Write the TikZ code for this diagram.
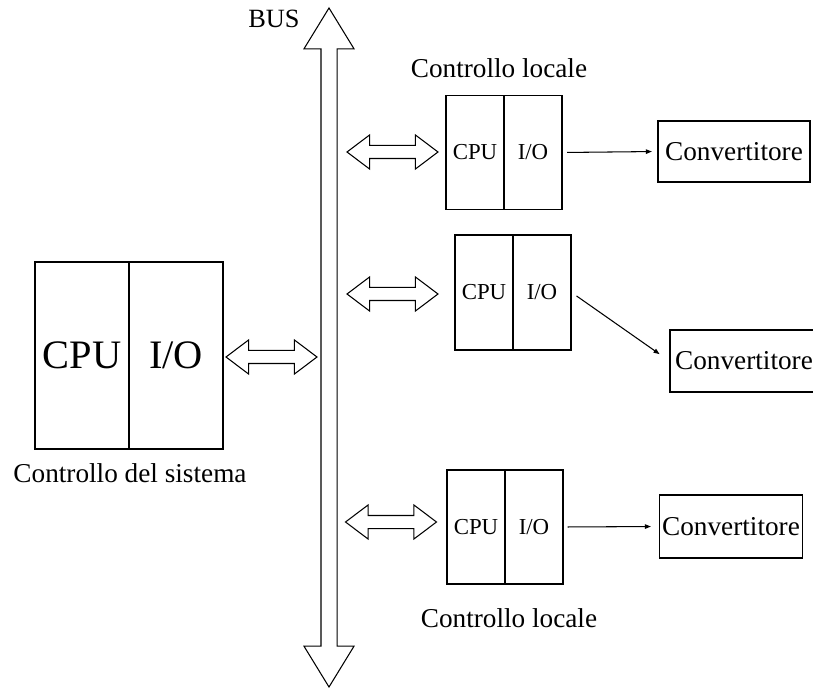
\documentclass[tikz,border=0pt]{standalone}
\usepackage{fontspec}
\setmainfont{Liberation Serif}
\usetikzlibrary{arrows.meta,shapes.arrows}

\tikzset{
	cell/.style={draw, line width=0.7pt, inner sep=0pt, minimum width=11.6mm, minimum height=22.8mm, font=\fontsize{13}{15}\selectfont},
	bigcell/.style={cell, minimum width=18.8mm, minimum height=37.4mm, font=\fontsize{23}{27}\selectfont},
	conv/.style={draw, line width=0.7pt, inner sep=0pt, minimum height=12.2mm, font=\fontsize{15.5}{18}\selectfont},
	caption/.style={font=\fontsize{15.5}{18}\selectfont},
	link/.style={double arrow, draw, line width=0.6pt, inner sep=1.2mm, minimum height=18.2mm, double arrow head extend=2.1mm, double arrow tip angle=74},
	feed/.style={line width=0.6pt, -{Triangle[length=1.2mm,width=0.9mm]}}
}

\begin{document}
\begin{tikzpicture}[x=0.2mm, y=-0.2mm]
	\useasboundingbox (0,0) rectangle (813,688);

	\node [link, shape border rotate=90, inner sep=1.5mm, minimum height=135.8mm, double arrow head extend=3.4mm, double arrow tip angle=63] (bus) at (329,347.5) {};
	\node [caption, font=\fontsize{15}{18}\selectfont] (buslabel) at (274,19) {BUS};

	\node [bigcell] (SC) at (82,355.5) {CPU};
	\node [bigcell] (SI) at (176,355.5) {I/O};
	\node [caption] (SL) at (130,473) {Controllo del sistema};
	\node [link] (SA) at (271.5,357) {};

	\node [cell] (AC) at (475,152.5) {CPU};
	\node [cell] (AI) at (533,152.5) {I/O};
	\node [caption] (AL) at (499,68) {Controllo locale};
	\node [link] (AA) at (392.5,152) {};
	\node [conv, minimum width=30.4mm] (AV) at (734,151.5) {Convertitore};

	\node [cell, minimum height=23mm] (BC) at (484,292.5) {CPU};
	\node [cell, minimum height=23mm] (BI) at (542,292.5) {I/O};
	\node [link] (BA) at (392.5,294) {};
	\node [conv, minimum width=29.6mm, minimum height=12.4mm] (BV) at (744,361) {Convertitore};

	\node [cell] (CC) at (476,527) {CPU};
	\node [cell] (CI) at (534,527) {I/O};
	\node [caption] (CL) at (509,618) {Controllo locale};
	\node [link] (CA) at (391,522) {};
	\node [conv, minimum width=28.6mm, minimum height=12.6mm] (CV) at (731,526.5) {Convertitore};

	\draw [feed, shorten <=0.9mm, shorten >=1.1mm] (AI.east) -- (AV.west);
	\draw [feed, shorten <=1.2mm, shorten >=2.4mm] (BI.east) -- (BV.west);
	\draw [feed, shorten <=0.8mm, shorten >=1.6mm] (CI.east) -- (CV.west);
\end{tikzpicture}
\end{document}
